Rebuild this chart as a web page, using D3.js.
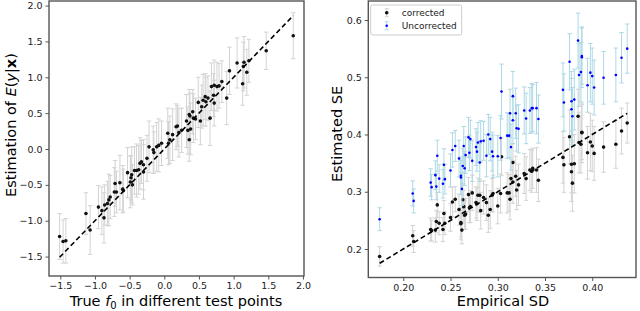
<!DOCTYPE html>
<html>
<head>
<meta charset="utf-8">
<script src="https://cdn.jsdelivr.net/npm/d3@7"></script>
<style>
  body { margin: 0; background: #fff; }
  svg { font-family: "DejaVu Sans", sans-serif; display: block; }
</style>
</head>
<body>
<svg id="chart" width="640" height="311"></svg>
<script>
// left panel: true f0 vs estimated E(y|x), with error bars
const trueF0 = [-1.51, -1.46, -1.42, -1.13, -1.07, -0.95, -0.90, -0.87, -0.86, -0.82,
  -0.80, -0.78, -0.72, -0.71, -0.69, -0.64, -0.60, -0.59, -0.53, -0.49,
  -0.48, -0.47, -0.46, -0.43, -0.40, -0.37, -0.35, -0.33, -0.30, -0.30,
  -0.25, -0.22, -0.16, -0.15, -0.11, -0.08, -0.04, 0.05, 0.06, 0.08,
  0.12, 0.17, 0.19, 0.21, 0.25, 0.32, 0.34, 0.36, 0.36, 0.37,
  0.38, 0.41, 0.42, 0.45, 0.49, 0.52, 0.54, 0.56, 0.59, 0.60,
  0.63, 0.66, 0.68, 0.71, 0.72, 0.72, 0.76, 0.79, 0.83, 0.90,
  0.94, 1.05, 1.13, 1.14, 1.15, 1.19, 1.22, 1.47, 1.86];
const estimate = [-1.22, -1.29, -1.28, -0.90, -1.13, -0.81, -0.86, -0.96, -0.78, -0.76,
  -0.71, -0.67, -0.60, -0.48, -0.60, -0.47, -0.56, -0.58, -0.33, -0.46,
  -0.40, -0.36, -0.50, -0.30, -0.30, -0.29, -0.20, -0.18, -0.22, -0.32,
  -0.13, 0.03, -0.01, -0.05, 0.03, 0.05, 0.08, 0.22, 0.08, 0.13,
  0.20, 0.31, 0.32, 0.23, 0.26, 0.39, 0.26, 0.48, 0.13, 0.46,
  0.28, 0.52, 0.43, 0.42, 0.65, 0.39, 0.59, 0.68, 0.73, 0.66,
  0.71, 0.43, 0.87, 0.75, 0.89, 0.64, 0.87, 0.88, 0.94, 0.71,
  1.09, 1.20, 0.91, 1.15, 1.21, 1.07, 1.23, 1.37, 1.58];
const estimateErr = [0.32, 0.30, 0.31, 0.29, 0.34, 0.30, 0.33, 0.35, 0.28, 0.31,
  0.36, 0.30, 0.34, 0.32, 0.29, 0.38, 0.33, 0.30, 0.35, 0.36,
  0.31, 0.39, 0.28, 0.33, 0.37, 0.34, 0.36, 0.30, 0.35, 0.38,
  0.32, 0.36, 0.33, 0.29, 0.34, 0.37, 0.31, 0.35, 0.30, 0.33,
  0.36, 0.32, 0.29, 0.34, 0.31, 0.37, 0.33, 0.35, 0.30, 0.32,
  0.36, 0.31, 0.34, 0.29, 0.35, 0.33, 0.30, 0.36, 0.32, 0.34,
  0.31, 0.38, 0.33, 0.30, 0.35, 0.32, 0.34, 0.31, 0.29, 0.37,
  0.33, 0.35, 0.30, 0.34, 0.36, 0.32, 0.30, 0.26, 0.32];

// right panel: empirical SD vs estimated SE (corrected / uncorrected)
const empiricalSD = [0.175, 0.210, 0.211, 0.229, 0.230, 0.234, 0.235, 0.236, 0.238, 0.242,
  0.243, 0.244, 0.250, 0.252, 0.255, 0.259, 0.261, 0.261, 0.262, 0.263,
  0.264, 0.265, 0.266, 0.269, 0.270, 0.271, 0.273, 0.277, 0.278, 0.279,
  0.281, 0.282, 0.285, 0.288, 0.290, 0.292, 0.294, 0.295, 0.300, 0.303,
  0.304, 0.310, 0.312, 0.313, 0.314, 0.316, 0.316, 0.319, 0.320, 0.322,
  0.328, 0.330, 0.334, 0.336, 0.337, 0.341, 0.343, 0.369, 0.370, 0.376,
  0.378, 0.378, 0.379, 0.381, 0.385, 0.386, 0.388, 0.389, 0.389, 0.395,
  0.398, 0.400, 0.402, 0.412, 0.425, 0.431, 0.437];
const correctedSE = [0.187, 0.223, 0.213, 0.234, 0.232, 0.233, 0.248, 0.277, 0.245, 0.234,
  0.262, 0.245, 0.255, 0.282, 0.287, 0.269, 0.246, 0.244, 0.233, 0.286,
  0.274, 0.259, 0.261, 0.295, 0.272, 0.274, 0.298, 0.281, 0.279, 0.294,
  0.294, 0.267, 0.290, 0.281, 0.259, 0.269, 0.294, 0.297, 0.275, 0.297,
  0.361, 0.298, 0.298, 0.287, 0.323, 0.351, 0.317, 0.327, 0.303, 0.312,
  0.332, 0.323, 0.338, 0.336, 0.341, 0.338, 0.320, 0.360, 0.347, 0.396,
  0.348, 0.335, 0.315, 0.349, 0.432, 0.386, 0.383, 0.404, 0.403, 0.368,
  0.387, 0.380, 0.367, 0.378, 0.383, 0.406, 0.420];
const correctedErr = [0.017, 0.018, 0.019, 0.020, 0.018, 0.021, 0.019, 0.022, 0.020, 0.021,
  0.023, 0.020, 0.024, 0.026, 0.022, 0.027, 0.025, 0.028, 0.024, 0.026,
  0.029, 0.025, 0.027, 0.030, 0.026, 0.028, 0.031, 0.027, 0.029, 0.030,
  0.028, 0.032, 0.029, 0.031, 0.030, 0.033, 0.029, 0.032, 0.031, 0.034,
  0.033, 0.035, 0.032, 0.036, 0.034, 0.033, 0.037, 0.035, 0.034, 0.036,
  0.035, 0.038, 0.036, 0.037, 0.035, 0.039, 0.037, 0.045, 0.048, 0.047,
  0.050, 0.052, 0.049, 0.051, 0.047, 0.053, 0.050, 0.048, 0.052, 0.046,
  0.050, 0.045, 0.047, 0.044, 0.042, 0.040, 0.035];
const uncorrectedSE = [0.252, 0.297, 0.284, 0.316, 0.308, 0.329, 0.309, 0.363, 0.323, 0.314,
  0.347, 0.322, 0.337, 0.373, 0.380, 0.358, 0.325, 0.328, 0.305, 0.345,
  0.380, 0.341, 0.364, 0.395, 0.368, 0.392, 0.354, 0.378, 0.370, 0.386,
  0.351, 0.388, 0.389, 0.363, 0.400, 0.392, 0.370, 0.362, 0.362, 0.394,
  0.475, 0.398, 0.398, 0.437, 0.378, 0.467, 0.425, 0.437, 0.411, 0.410,
  0.442, 0.428, 0.442, 0.446, 0.446, 0.446, 0.427, 0.478, 0.456, 0.527,
  0.458, 0.444, 0.432, 0.461, 0.564, 0.504, 0.509, 0.537, 0.535, 0.486,
  0.508, 0.502, 0.482, 0.499, 0.504, 0.534, 0.550];
const uncorrectedErr = [0.020, 0.022, 0.021, 0.024, 0.022, 0.025, 0.023, 0.027, 0.024, 0.025,
  0.028, 0.026, 0.029, 0.030, 0.027, 0.032, 0.030, 0.033, 0.029, 0.031,
  0.034, 0.030, 0.032, 0.035, 0.031, 0.033, 0.036, 0.032, 0.034, 0.035,
  0.033, 0.036, 0.034, 0.037, 0.035, 0.038, 0.034, 0.037, 0.036, 0.039,
  0.048, 0.040, 0.038, 0.042, 0.040, 0.043, 0.041, 0.044, 0.040, 0.042,
  0.041, 0.044, 0.040, 0.043, 0.041, 0.045, 0.042, 0.047, 0.050, 0.049,
  0.052, 0.054, 0.050, 0.053, 0.048, 0.055, 0.052, 0.049, 0.053, 0.047,
  0.051, 0.049, 0.048, 0.046, 0.047, 0.044, 0.043];

const leftXTicks = [-1.5, -1.0, -0.5, 0.0, 0.5, 1.0, 1.5, 2.0];
const leftYTicks = [-1.5, -1.0, -0.5, 0.0, 0.5, 1.0, 1.5, 2.0];
const rightXTicks = [0.20, 0.25, 0.30, 0.35, 0.40];
const rightYTicks = [0.2, 0.3, 0.4, 0.5, 0.6];

const svg = d3.select("#chart");
const spineColor = "#555";
const fmt = (f) => (d) => d3.format(f)(d).replace("-", "\u2212");

// axes boxes (pixel coords of the plotting area)
const leftBox = { x0: 49, x1: 304, y0: 1, y1: 276 };
const rightBox = { x0: 368.3, x1: 636, y0: 1, y1: 277.5 };

const xL = d3.scaleLinear().domain([-1.663, 2.015]).range([leftBox.x0, leftBox.x1]);
const yL = d3.scaleLinear().domain([-1.771, 2.064]).range([leftBox.y1, leftBox.y0]);
const xR = d3.scaleLinear().domain([0.163, 0.4463]).range([rightBox.x0, rightBox.x1]);
const yR = d3.scaleLinear().domain([0.1502, 0.6332]).range([rightBox.y1, rightBox.y0]);

function drawAxes(box, x, y, xTicks, yTicks, xf, yf) {
  const g = svg.append("g");
  g.append("g")
    .attr("transform", `translate(0,${box.y1})`)
    .call(d3.axisBottom(x).tickValues(xTicks).tickFormat(xf).tickSize(3.5).tickPadding(3))
    .call((a) => a.select(".domain").remove());
  g.append("g")
    .attr("transform", `translate(${box.x0},0)`)
    .call(d3.axisLeft(y).tickValues(yTicks).tickFormat(yf).tickSize(3.5).tickPadding(3))
    .call((a) => a.select(".domain").remove());
  g.selectAll(".tick line").attr("stroke", spineColor).attr("stroke-width", 1);
  g.selectAll(".tick text")
    .attr("fill", "#222")
    .style("font-size", "9.5px")
    .style("font-family", "DejaVu Sans");
  svg.append("rect")
    .attr("x", box.x0).attr("y", box.y0)
    .attr("width", box.x1 - box.x0).attr("height", box.y1 - box.y0)
    .attr("fill", "none").attr("stroke", spineColor).attr("stroke-width", 1.4);
}

function errorBars(xs, ys, es, x, y, color) {
  const g = svg.append("g").attr("stroke", color).attr("stroke-width", 1).attr("fill", "none");
  xs.forEach((xv, i) => {
    const px = x(xv), lo = y(ys[i] - es[i]), hi = y(ys[i] + es[i]);
    g.append("line").attr("x1", px).attr("x2", px).attr("y1", lo).attr("y2", hi);
    g.append("line").attr("x1", px - 2.2).attr("x2", px + 2.2).attr("y1", lo).attr("y2", lo);
    g.append("line").attr("x1", px - 2.2).attr("x2", px + 2.2).attr("y1", hi).attr("y2", hi);
  });
}

function dots(xs, ys, x, y, color, r) {
  svg.append("g")
    .selectAll("circle")
    .data(xs)
    .join("circle")
    .attr("cx", (d) => x(d))
    .attr("cy", (d, i) => y(ys[i]))
    .attr("r", r)
    .attr("fill", color);
}

function identityLine(xs, x, y) {
  const [lo, hi] = d3.extent(xs);
  svg.append("line")
    .attr("x1", x(lo)).attr("y1", y(lo))
    .attr("x2", x(hi)).attr("y2", y(hi))
    .attr("stroke", "#000")
    .attr("stroke-width", 1.6)
    .attr("stroke-dasharray", "5,3");
}

// ---- left panel
errorBars(trueF0, estimate, estimateErr, xL, yL, "#d3d3d3");
dots(trueF0, estimate, xL, yL, "#111", 1.8);
identityLine(trueF0, xL, yL);
drawAxes(leftBox, xL, yL, leftXTicks, leftYTicks, fmt(".1f"), fmt(".1f"));

// ---- right panel
errorBars(empiricalSD, correctedSE, correctedErr, xR, yR, "#d3d3d3");
dots(empiricalSD, correctedSE, xR, yR, "#111", 1.8);
errorBars(empiricalSD, uncorrectedSE, uncorrectedErr, xR, yR, "#add8e6");
dots(empiricalSD, uncorrectedSE, xR, yR, "#0000ff", 1.3);
identityLine(empiricalSD, xR, yR);
drawAxes(rightBox, xR, yR, rightXTicks, rightYTicks, fmt(".2f"), fmt(".1f"));

// legend
const lg = svg.append("g");
lg.append("rect")
  .attr("x", 370.7).attr("y", 5).attr("width", 91).attr("height", 30).attr("rx", 2)
  .attr("fill", "#fff").attr("fill-opacity", 0.8)
  .attr("stroke", "#ccc").attr("stroke-width", 1);
const legendItems = [
  { label: "corrected", bar: "#d3d3d3", dot: "#111", r: 1.8, y: 12.7 },
  { label: "Uncorrected", bar: "#add8e6", dot: "#0000ff", r: 1.3, y: 25.7 },
];
legendItems.forEach((it) => {
  const px = 386.7;
  lg.append("line").attr("x1", px).attr("x2", px).attr("y1", it.y - 4).attr("y2", it.y + 4)
    .attr("stroke", it.bar);
  [it.y - 4, it.y + 4].forEach((cy) =>
    lg.append("line").attr("x1", px - 2).attr("x2", px + 2).attr("y1", cy).attr("y2", cy)
      .attr("stroke", it.bar));
  lg.append("circle").attr("cx", px).attr("cy", it.y).attr("r", it.r).attr("fill", it.dot);
  lg.append("text").attr("x", 401.7).attr("y", it.y + 3.2)
    .style("font-size", "9px").attr("fill", "#222").text(it.label);
});

// axis labels
const labelSize = "14.5px";
const ylL = svg.append("text")
  .attr("transform", "translate(16,125) rotate(-90)")
  .attr("text-anchor", "middle")
  .style("font-size", labelSize);
ylL.append("tspan").text("Estimation of ");
ylL.append("tspan").style("font-style", "italic").text("E");
ylL.append("tspan").text("(");
ylL.append("tspan").style("font-style", "italic").text("y");
ylL.append("tspan").text("|");
ylL.append("tspan").style("font-weight", "bold").text("x");
ylL.append("tspan").text(")");

const xlL = svg.append("text")
  .attr("x", 176).attr("y", 306)
  .attr("text-anchor", "middle")
  .style("font-size", labelSize);
xlL.append("tspan").text("True ");
xlL.append("tspan").style("font-style", "italic").text("f");
xlL.append("tspan").attr("dy", 3).style("font-size", "10px").text("0");
xlL.append("tspan").attr("dy", -3).text(" in different test points");

svg.append("text")
  .attr("transform", "translate(342,134) rotate(-90)")
  .attr("text-anchor", "middle")
  .style("font-size", labelSize)
  .text("Estimated SE");

svg.append("text")
  .attr("x", 503).attr("y", 306)
  .attr("text-anchor", "middle")
  .style("font-size", labelSize)
  .text("Empirical SD");
</script>
</body>
</html>
